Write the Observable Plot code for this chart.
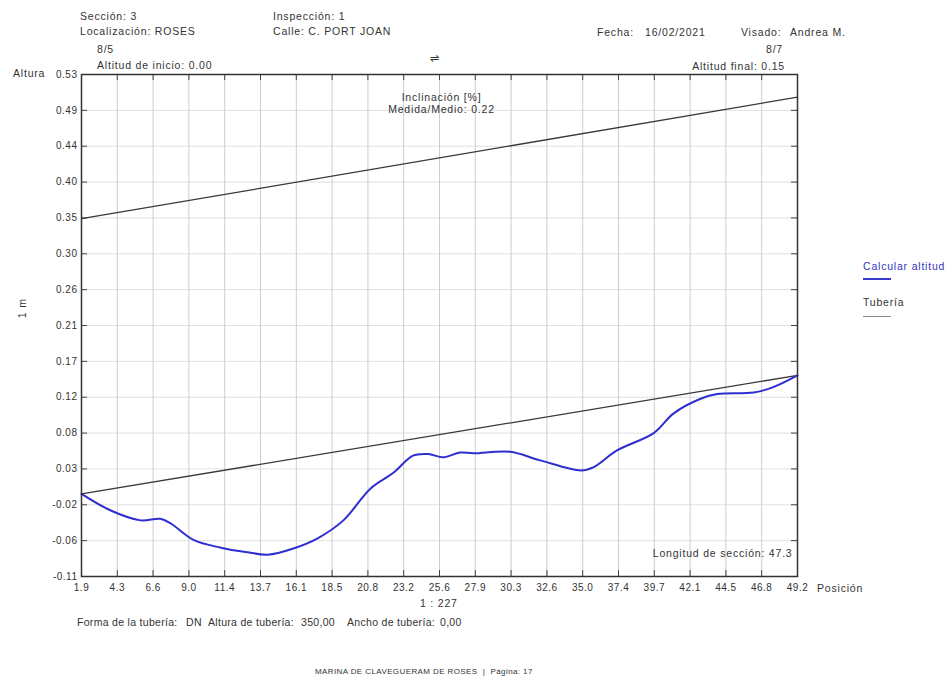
<!DOCTYPE html>
<html>
<head>
<meta charset="utf-8">
<script src="https://cdn.jsdelivr.net/npm/d3@7"></script>
<script src="https://cdn.jsdelivr.net/npm/@observablehq/plot@0.6"></script>
<style>
  html, body { margin: 0; padding: 0; background: #fff; }
  #wrap { position: relative; width: 948px; height: 679px; overflow: hidden;
          font-family: "Liberation Sans", Arial, sans-serif; font-size: 10.5px; letter-spacing: 0.8px; color: #333; }
  #wrap svg { position: absolute; left: 0; top: 0; }
  .t { position: absolute; white-space: pre; line-height: 1; }
  .b { letter-spacing: 0.3px; }
</style>
</head>
<body>
<div id="wrap"></div>
<script>
// ---------- data ----------
const xTickLabels = ["1.9","4.3","6.6","9.0","11.4","13.7","16.1","18.5","20.8","23.2","25.6","27.9","30.3","32.6","35.0","37.4","39.7","42.1","44.5","46.8","49.2"];
const yTickLabels = ["-0.11","-0.06","-0.02","0.03","0.08","0.12","0.17","0.21","0.26","0.30","0.35","0.40","0.44","0.49","0.53"];
const xDomain = [1.9, 49.2];
const yDomain = [-0.11, 0.534];

// measured altitude (blue curve)
const posicion = [1.9, 3.8, 5.8, 7.1, 7.8, 9.3, 11.1, 12.9, 14.2, 15.9, 17.5, 19.2, 21.0, 22.5, 23.8, 24.8, 25.8, 26.9, 27.8, 30.2, 32.2, 34.9, 35.7, 37.3, 39.7, 41.0, 42.8, 43.9, 46.3, 47.6, 49.2];
const altitud  = [-0.004, -0.025, -0.038, -0.036, -0.042, -0.063, -0.073, -0.079, -0.082, -0.074, -0.061, -0.038, 0.003, 0.023, 0.045, 0.047, 0.043, 0.049, 0.048, 0.050, 0.039, 0.026, 0.030, 0.052, 0.074, 0.099, 0.118, 0.124, 0.126, 0.133, 0.148];

// pipe (two straight lines: crown and invert)
const tuberiaPos = [1.9, 49.2];
const tuberiaArriba = [0.349, 0.505];
const tuberiaAbajo = [-0.004, 0.148];

// ---------- derived tables ----------
const xTicks = xTickLabels.map((_, i) => xDomain[0] + i * (xDomain[1] - xDomain[0]) / (xTickLabels.length - 1));
const yTicks = yTickLabels.map((_, i) => yDomain[0] + i * (yDomain[1] - yDomain[0]) / (yTickLabels.length - 1));
const xLab = new Map(xTicks.map((t, i) => [t, xTickLabels[i]]));
const yLab = new Map(yTicks.map((t, i) => [t, yTickLabels[i]]));

const medida = posicion.map((x, i) => ({x, y: altitud[i]}));
const tuberia = [
  ...tuberiaPos.map((x, i) => ({x, y: tuberiaArriba[i], z: "arriba"})),
  ...tuberiaPos.map((x, i) => ({x, y: tuberiaAbajo[i], z: "abajo"}))
];

const mT = 74, mB = 103, mL = 81, mR = 151, H = 679, W = 948;
const innerH = H - mT - mB, innerW = W - mL - mR;
const tyLen = (yDomain[1] - yDomain[0]) * 6 / innerH;
const txLen = (xDomain[1] - xDomain[0]) * 6 / innerW;

const chart = Plot.plot({
  width: W, height: H,
  marginTop: mT, marginBottom: mB, marginLeft: mL, marginRight: mR,
  x: {domain: xDomain},
  y: {domain: yDomain},
  style: {fontFamily: "Liberation Sans, Arial, sans-serif", fontSize: "10px", letterSpacing: "0.5px", color: "#333", background: "transparent"},
  marks: [
    Plot.ruleY(yTicks, {stroke: "#e0e0e0", strokeWidth: 1}),
    Plot.ruleX(xTicks, {stroke: "#cdcdcd", strokeWidth: 1}),
    // inward ticks
    Plot.ruleX(xTicks, {y1: yDomain[0], y2: yDomain[0] + tyLen, stroke: "#444"}),
    Plot.ruleX(xTicks, {y1: yDomain[1], y2: yDomain[1] - tyLen, stroke: "#444"}),
    Plot.ruleY(yTicks, {x1: xDomain[0], x2: xDomain[0] + txLen, stroke: "#444"}),
    Plot.ruleY(yTicks, {x1: xDomain[1], x2: xDomain[1] - txLen, stroke: "#444"}),
    Plot.axisX({ticks: xTicks, tickFormat: d => xLab.get(d), tickSize: 0, tickPadding: 7, label: null}),
    Plot.axisY({ticks: yTicks, tickFormat: d => yLab.get(d), tickSize: 0, tickPadding: 4, label: null}),
    Plot.line(tuberia, {x: "x", y: "y", z: "z", stroke: "#383838", strokeWidth: 1.3}),
    Plot.line(medida, {x: "x", y: "y", stroke: "#2e2ed0", strokeWidth: 2, curve: "catmull-rom"}),
    Plot.frame({stroke: "#333", strokeWidth: 1.5}),
    Plot.text(["Inclinación [%]"], {frameAnchor: "top", dy: 19, dx: 2, fill: "#333", fontSize: 10.5}),
    Plot.text(["Medida/Medio: 0.22"], {frameAnchor: "top", dy: 31, dx: 2, fill: "#333", fontSize: 10.5}),
    Plot.text(["Longitud de sección: 47.3"], {frameAnchor: "bottom-right", textAnchor: "end", dx: -5, dy: -20, fill: "#333", fontSize: 10.5})
  ]
});

const wrap = document.getElementById("wrap");
wrap.appendChild(chart);
chart.querySelectorAll("text").forEach(t => {
  if (t.textContent.length > 8) t.style.letterSpacing = "0.8px";
});

const labels = [
  ["Sección: 3", 80, 11],
  ["Localización: ROSES", 80, 26],
  ["Inspección: 1", 273, 11],
  ["Calle: C. PORT JOAN", 273, 26],
  ["Fecha:", 597, 27],
  ["16/02/2021", 645, 27],
  ["Visado:", 741, 27],
  ["Andrea M.", 790, 27],
  ["8/5", 97, 44],
  ["Altitud de inicio: 0.00", 97, 60],
  ["Altura", 13, 68],
  ["Posición", 817, 583],
  ["1 : 227", 420, 598],
  ["Tubería", 863, 297]
];
for (const [txt, x, y] of labels) {
  const d = document.createElement("div");
  d.className = "t"; d.textContent = txt;
  d.style.left = x + "px"; d.style.top = y + "px";
  wrap.appendChild(d);
}
const bottomRow = [
  ["Forma de la tubería:", 77],
  ["DN", 186],
  ["Altura de tubería:", 208],
  ["350,00", 301],
  ["Ancho de tubería:", 347],
  ["0,00", 440]
];
for (const [txt, x] of bottomRow) {
  const d = document.createElement("div");
  d.className = "t b"; d.textContent = txt;
  d.style.left = x + "px"; d.style.top = "617px";
  wrap.appendChild(d);
}
function addRight(txt, right, y) {
  const d = document.createElement("div");
  d.className = "t"; d.textContent = txt;
  d.style.right = (W - right) + "px"; d.style.top = y + "px";
  wrap.appendChild(d);
}
addRight("8/7", 783, 44);
addRight("Altitud final: 0.15", 785, 61);

// arrow symbol above frame centre
const ar = document.createElement("div");
ar.className = "t"; ar.innerHTML = "&#8652;";
ar.style.left = "430px"; ar.style.top = "53px"; ar.style.fontSize = "11px";
wrap.appendChild(ar);

// vertical scale label
const vm = document.createElement("div");
vm.className = "t"; vm.textContent = "1 m";
vm.style.left = "12px"; vm.style.top = "303px"; vm.style.transform = "rotate(-90deg)";
wrap.appendChild(vm);

// legend
const lg = document.createElement("div");
lg.className = "t"; lg.textContent = "Calcular altitud";
lg.style.left = "863px"; lg.style.top = "261px"; lg.style.color = "#3535c0";
wrap.appendChild(lg);
const l1 = document.createElement("div");
l1.style.cssText = "position:absolute;left:863px;top:278px;width:28px;height:2px;background:#3a3ad0;";
wrap.appendChild(l1);
const l2 = document.createElement("div");
l2.style.cssText = "position:absolute;left:863px;top:316px;width:28px;height:1px;background:#888;";
wrap.appendChild(l2);

// footer
const ft = document.createElement("div");
ft.className = "t"; ft.textContent = "MARINA DE CLAVEGUERAM DE ROSES  |  Página: 17";
ft.style.left = "315px"; ft.style.top = "668px"; ft.style.fontSize = "8px"; ft.style.letterSpacing = "0.4px";
wrap.appendChild(ft);
</script>
</body>
</html>
